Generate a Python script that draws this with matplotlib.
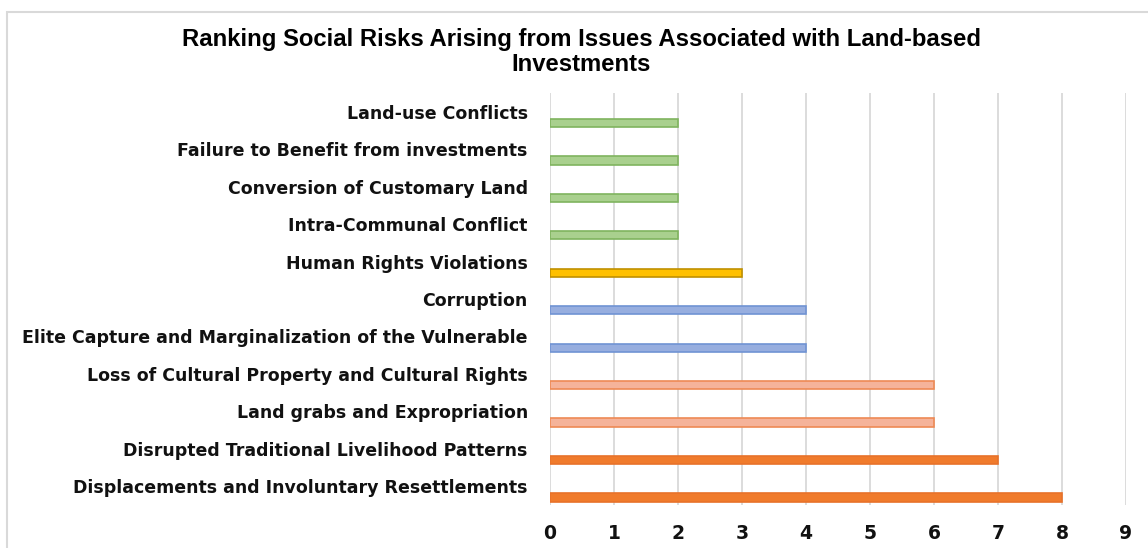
import numpy as np
import matplotlib.pyplot as plt
from matplotlib.patches import Rectangle

# ---- DATA (bottom to top) ---- #
risks = [
    "Displacements and Involuntary Resettlements",
    "Disrupted Traditional Livelihood Patterns",
    "Land grabs and Expropriation",
    "Loss of Cultural Property and Cultural Rights",
    "Elite Capture and Marginalization of the Vulnerable",
    "Corruption",
    "Human Rights Violations",
    "Intra-Communal Conflict",
    "Conversion of Customary Land",
    "Failure to Benefit from investments",
    "Land-use Conflicts",
]
scores = [8, 7, 6, 6, 4, 4, 3, 2, 2, 2, 2]
groups = ["orange", "orange", "salmon", "salmon", "blue", "blue", "gold",
          "green", "green", "green", "green"]

fills = {"orange": "#f07b2c", "salmon": "#f5b39a", "blue": "#97aedf",
         "gold": "#ffc000", "green": "#a9d08e"}
edges = {"orange": "#e8722a", "salmon": "#ee8a55", "blue": "#7093d3",
         "gold": "#c09000", "green": "#7fb45f"}

# ---- PLOT ---- #
fig = plt.figure(figsize=(11.48, 5.48), dpi=100)
ax = fig.add_axes([550 / 1148, 1 - 505 / 548, 576 / 1148, 412 / 548])

y = np.arange(len(risks))
ax.barh(y - 0.3, scores, height=0.22,
        color=[fills[g] for g in groups],
        edgecolor=[edges[g] for g in groups], linewidth=1.2, zorder=3)

ax.set_xlim(0, 9)
ax.set_ylim(-0.5, len(risks) - 0.5)
ax.set_xticks(range(10))
ax.set_yticks(y)
ax.set_yticklabels(risks, fontsize=12.5, fontweight="bold", color="#111111",
                   family="DejaVu Sans")
ax.tick_params(axis="y", length=0, pad=16)
ax.tick_params(axis="x", length=0, pad=14, labelsize=13.5, labelcolor="#111111")
for lab in ax.get_xticklabels():
    lab.set_fontweight("bold")

ax.grid(axis="x", color="#d9d9d9", linewidth=1.3, zorder=0)
for s in ax.spines.values():
    s.set_visible(False)

# chart frame
fig.patches.append(Rectangle((7 / 1148, -0.1), 1.2, 1 - 12 / 548 + 0.1,
                             transform=fig.transFigure, fill=False,
                             edgecolor="#d9d9d9", linewidth=1.5))

fig.text(581 / 1148, 1 - 52 / 548,
         "Ranking Social Risks Arising from Issues Associated with Land-based\nInvestments",
         ha="center", va="center", fontsize=17.2, fontweight="bold",
         family=["Liberation Sans", "DejaVu Sans"], linespacing=1.12)

plt.savefig("out.png", dpi=100)
